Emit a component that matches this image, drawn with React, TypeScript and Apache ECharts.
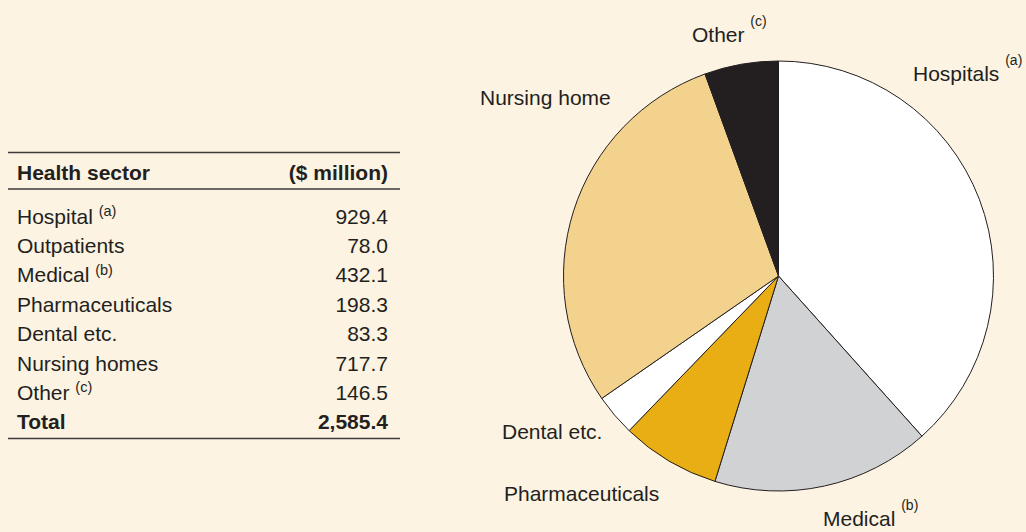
import React, { useEffect, useRef } from "react";
import * as echarts from "echarts";

// ---- Data ----
const tableHeader = ["Health sector", "($ million)"];
const tableRows = ["Hospital", "Outpatients", "Medical", "Pharmaceuticals", "Dental etc.", "Nursing homes", "Other"];
const tableNotes = ["(a)", "", "(b)", "", "", "", "(c)"];
const tableValues = [929.4, 78.0, 432.1, 198.3, 83.3, 717.7, 146.5];
const totalLabel = "Total";
const totalValue = "2,585.4";

const pieLabels = ["Hospitals", "Medical", "Pharmaceuticals", "Dental etc.", "Nursing home", "Other"];
const pieNotes = ["(a)", "(b)", "", "", "", "(c)"];
// slice sizes ($ million)
const pieValues = [992, 424, 192.5, 81, 752, 143.5];

// ---- Styles / layout ----
const pieColors = ["#ffffff", "#d1d2d4", "#e8ae14", "#ffffff", "#f3d28e", "#231f20"];
const pieLabelPos: [number, number][] = [
  [913, 73],
  [823, 518],
  [504, 493],
  [502, 431],
  [480, 97],
  [692, 34],
];
const BG = "#fcf3e2";
const INK = "#231f20";
const FONT = "'Liberation Sans', Arial, Helvetica, sans-serif";
const FS = 21;

export default function App() {
  const ref = useRef<HTMLDivElement>(null);

  useEffect(() => {
    if (!ref.current) return;
    const chart = echarts.init(ref.current, undefined, { renderer: "svg" });

    const rowY0 = 216;
    const rowStep = 29.4;
    const textX = 17;
    const numX = 388;

    const tableRich = {
      n: { fontSize: FS, fontFamily: FONT, fill: INK, lineHeight: 25 },
      s: { fontSize: 14.5, fontFamily: FONT, fill: INK, lineHeight: 13, verticalAlign: "top" },
    };

    const graphics: any[] = [
      { type: "line", shape: { x1: 8, y1: 152.5, x2: 400, y2: 152.5 }, style: { stroke: "#3c3a3a", lineWidth: 1.5 } },
      { type: "line", shape: { x1: 8, y1: 189, x2: 400, y2: 189 }, style: { stroke: "#3c3a3a", lineWidth: 1.5 } },
      { type: "line", shape: { x1: 8, y1: 438.5, x2: 400, y2: 438.5 }, style: { stroke: "#3c3a3a", lineWidth: 1.5 } },
      {
        type: "text",
        style: { text: tableHeader[0], x: textX, y: 172, fontSize: FS, fontWeight: "bold", fontFamily: FONT, fill: INK, align: "left", verticalAlign: "middle" },
      },
      {
        type: "text",
        style: { text: tableHeader[1], x: numX, y: 172, fontSize: FS, fontWeight: "bold", fontFamily: FONT, fill: INK, align: "right", verticalAlign: "middle" },
      },
    ];

    tableRows.forEach((name, i) => {
      const y = rowY0 + i * rowStep;
      const txt = tableNotes[i] ? `{n|${name} }{s|${tableNotes[i]}}` : `{n|${name}}`;
      graphics.push({
        type: "text",
        style: { text: txt, rich: tableRich, x: textX, y, align: "left", verticalAlign: "middle" },
      });
      graphics.push({
        type: "text",
        style: { text: tableValues[i].toFixed(1), x: numX, y, fontSize: FS, fontFamily: FONT, fill: INK, align: "right", verticalAlign: "middle" },
      });
    });
    const totalY = rowY0 + tableRows.length * rowStep;
    graphics.push({
      type: "text",
      style: { text: totalLabel, x: textX, y: totalY, fontSize: FS, fontWeight: "bold", fontFamily: FONT, fill: INK, align: "left", verticalAlign: "middle" },
    });
    graphics.push({
      type: "text",
      style: { text: totalValue, x: numX, y: totalY, fontSize: FS, fontWeight: "bold", fontFamily: FONT, fill: INK, align: "right", verticalAlign: "middle" },
    });

    chart.setOption({
      animation: false,
      backgroundColor: BG,
      graphic: graphics,
      series: [
        {
          type: "pie",
          center: [778.5, 276],
          radius: 215,
          startAngle: 90,
          clockwise: true,
          avoidLabelOverlap: false,
          silent: true,
          itemStyle: { borderColor: INK, borderWidth: 1 },
          labelLine: { show: false },
          label: {
            show: true,
            position: "outside",
            formatter: (p: any) => {
              const note = pieNotes[p.dataIndex];
              return note ? `{n|${p.name} }{s|${note}}` : `{n|${p.name}}`;
            },
            rich: {
              n: { fontSize: FS, fontFamily: FONT, color: INK, lineHeight: 40 },
              s: { fontSize: 14, fontFamily: FONT, color: INK, lineHeight: 14, verticalAlign: "top" },
            },
          },
          labelLayout: (params: any) => ({
            x: pieLabelPos[params.dataIndex][0],
            y: pieLabelPos[params.dataIndex][1],
            align: "left",
            verticalAlign: "middle",
          }),
          data: pieLabels.map((name, i) => ({
            name,
            value: pieValues[i],
            itemStyle: { color: pieColors[i] },
          })),
        },
      ],
    });

    return () => chart.dispose();
  }, []);

  return (
    <div
      ref={ref}
      style={{ position: "fixed", left: 0, top: 0, width: 1026, height: 532, background: BG }}
    />
  );
}
